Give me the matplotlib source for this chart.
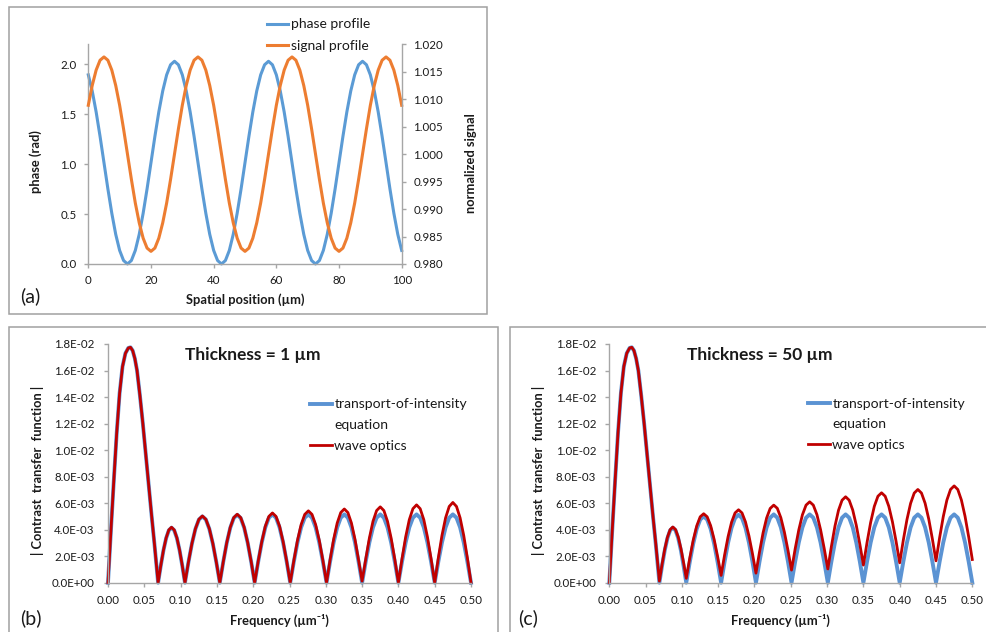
import matplotlib
matplotlib.use('Agg')
import numpy as np
import matplotlib.pyplot as plt
from matplotlib.patches import Rectangle
from matplotlib.lines import Line2D
from matplotlib.ticker import FormatStrFormatter

plt.rcParams['font.family'] = ['Lato', 'DejaVu Sans']

# ---------------- data: panel (a) ----------------
x_pos = [0, 1.25, 2.5, 3.75, 5, 6.25, 7.5, 8.75, 10, 11.25, 12.5, 13.75, 15, 16.25, 17.5, 18.75,
         20, 21.25, 22.5, 23.75, 25, 26.25, 27.5, 28.75, 30, 31.25, 32.5, 33.75, 35, 36.25, 37.5, 38.75,
         40, 41.25, 42.5, 43.75, 45, 46.25, 47.5, 48.75, 50, 51.25, 52.5, 53.75, 55, 56.25, 57.5, 58.75,
         60, 61.25, 62.5, 63.75, 65, 66.25, 67.5, 68.75, 70, 71.25, 72.5, 73.75, 75, 76.25, 77.5, 78.75,
         80, 81.25, 82.5, 83.75, 85, 86.25, 87.5, 88.75, 90, 91.25, 92.5, 93.75, 95, 96.25, 97.5, 98.75, 100]

phase_profile = [1.894, 1.733, 1.523, 1.278, 1.015, 0.752, 0.508, 0.297, 0.136, 0.035, 0.000,
                 0.035, 0.136, 0.297, 0.508, 0.752, 1.015, 1.278, 1.523, 1.733, 1.894, 1.995, 2.030,
                 1.995, 1.894, 1.733, 1.523, 1.278, 1.015, 0.752, 0.508, 0.297, 0.136, 0.035, 0.000,
                 0.035, 0.136, 0.297, 0.508, 0.752, 1.015, 1.278, 1.523, 1.733, 1.894, 1.995, 2.030,
                 1.995, 1.894, 1.733, 1.523, 1.278, 1.015, 0.752, 0.508, 0.297, 0.136, 0.035, 0.000,
                 0.035, 0.136, 0.297, 0.508, 0.752, 1.015, 1.278, 1.523, 1.733, 1.894, 1.995, 2.030,
                 1.995, 1.894, 1.733, 1.523, 1.278, 1.015, 0.752, 0.508, 0.297, 0.136]

signal_profile = [1.0089, 1.0125, 1.0153, 1.0171, 1.0177,
                  1.0171, 1.0153, 1.0125, 1.0089, 1.0046, 1.0000, 0.9954, 0.9911, 0.9875, 0.9847, 0.9829, 0.9823,
                  0.9829, 0.9847, 0.9875, 0.9911, 0.9954, 1.0000, 1.0046, 1.0089, 1.0125, 1.0153, 1.0171, 1.0177,
                  1.0171, 1.0153, 1.0125, 1.0089, 1.0046, 1.0000, 0.9954, 0.9911, 0.9875, 0.9847, 0.9829, 0.9823,
                  0.9829, 0.9847, 0.9875, 0.9911, 0.9954, 1.0000, 1.0046, 1.0089, 1.0125, 1.0153, 1.0171, 1.0177,
                  1.0171, 1.0153, 1.0125, 1.0089, 1.0046, 1.0000, 0.9954, 0.9911, 0.9875, 0.9847, 0.9829, 0.9823,
                  0.9829, 0.9847, 0.9875, 0.9911, 0.9954, 1.0000, 1.0046, 1.0089, 1.0125, 1.0153, 1.0171, 1.0177,
                  1.0171, 1.0153, 1.0125, 1.0089]

# ---------------- data: panels (b), (c) ----------------
freq = [0.000, 0.004, 0.008, 0.012, 0.016, 0.020, 0.024, 0.028, 0.031, 0.034, 0.037, 0.040, 0.044,
        0.048, 0.052, 0.056, 0.060, 0.064, 0.069,
        0.0727, 0.0764, 0.0801, 0.0838, 0.0875, 0.0912, 0.0949, 0.0986, 0.1023, 0.1060,
        0.1108, 0.1156, 0.1204, 0.1252, 0.1300, 0.1348, 0.1396, 0.1444, 0.1492, 0.1540,
        0.1588, 0.1636, 0.1684, 0.1732, 0.1780, 0.1828, 0.1876, 0.1924, 0.1972, 0.2020,
        0.2069, 0.2118, 0.2167, 0.2216, 0.2265, 0.2314, 0.2363, 0.2412, 0.2461, 0.2510,
        0.2560, 0.2610, 0.2660, 0.2710, 0.2760, 0.2810, 0.2860, 0.2910, 0.2960, 0.3010,
        0.3059, 0.3108, 0.3157, 0.3206, 0.3255, 0.3304, 0.3353, 0.3402, 0.3451, 0.3500,
        0.3550, 0.3600, 0.3650, 0.3700, 0.3750, 0.3800, 0.3850, 0.3900, 0.3950, 0.4000,
        0.4050, 0.4100, 0.4150, 0.4200, 0.4250, 0.4300, 0.4350, 0.4400, 0.4450, 0.4500,
        0.4550, 0.4600, 0.4650, 0.4700, 0.4750, 0.4800, 0.4850, 0.4900, 0.4950, 0.5000]

# values in units of 1e-3
tie_ctf = [0, 3.9, 7.7, 11.3, 14.3, 16.3, 17.3, 17.7, 17.75, 17.5, 16.9, 16.0, 14.1,
           12.0, 9.7, 7.4, 5.1, 2.9, 0,
           1.28, 2.44, 3.36, 3.95, 4.15, 3.95, 3.36, 2.44, 1.28, 0,
           1.55, 2.94, 4.05, 4.76, 5.00, 4.76, 4.05, 2.94, 1.55, 0,
           1.58, 3.01, 4.14, 4.87, 5.12, 4.87, 4.14, 3.01, 1.58, 0,
           1.59, 3.03, 4.17, 4.90, 5.15, 4.90, 4.17, 3.03, 1.59, 0,
           1.59, 3.03, 4.17, 4.90, 5.15, 4.90, 4.17, 3.03, 1.59, 0,
           1.59, 3.03, 4.17, 4.90, 5.15, 4.90, 4.17, 3.03, 1.59, 0,
           1.59, 3.03, 4.17, 4.90, 5.15, 4.90, 4.17, 3.03, 1.59, 0,
           1.59, 3.03, 4.17, 4.90, 5.15, 4.90, 4.17, 3.03, 1.59, 0,
           1.59, 3.03, 4.17, 4.90, 5.15, 4.90, 4.17, 3.03, 1.59, 0]

wave_ctf_1um = [0, 3.9, 7.7, 11.3, 14.3, 16.3, 17.3, 17.7, 17.75, 17.5, 16.9, 16.0, 14.1,
                12.0, 9.7, 7.4, 5.1, 2.9, 0,
                1.29, 2.46, 3.38, 3.98, 4.18, 3.98, 3.38, 2.46, 1.29, 0,
                1.55, 2.96, 4.07, 4.78, 5.03, 4.78, 4.07, 2.96, 1.55, 0,
                1.59, 3.03, 4.17, 4.91, 5.16, 4.91, 4.17, 3.03, 1.59, 0,
                1.63, 3.09, 4.26, 5.00, 5.26, 5.00, 4.26, 3.09, 1.63, 0,
                1.67, 3.19, 4.38, 5.15, 5.42, 5.15, 4.38, 3.19, 1.67, 0,
                1.72, 3.27, 4.50, 5.29, 5.56, 5.29, 4.50, 3.27, 1.72, 0.12,
                1.77, 3.36, 4.63, 5.44, 5.72, 5.44, 4.63, 3.36, 1.77, 0,
                1.81, 3.45, 4.75, 5.58, 5.87, 5.58, 4.75, 3.45, 1.81, 0,
                1.87, 3.56, 4.89, 5.75, 6.05, 5.75, 4.89, 3.56, 1.87, 0]

wave_ctf_50um = [0, 3.9, 7.7, 11.3, 14.3, 16.3, 17.3, 17.7, 17.75, 17.5, 16.9, 16.0, 14.1,
                 12.0, 9.7, 7.4, 5.1, 2.95, 0.12,
                 1.40, 2.54, 3.43, 4.00, 4.20, 4.01, 3.45, 2.59, 1.51, 0.33,
                 1.85, 3.21, 4.28, 4.97, 5.20, 4.97, 4.30, 3.27, 1.97, 0.55,
                 2.09, 3.47, 4.56, 5.26, 5.50, 5.26, 4.58, 3.52, 2.19, 0.72,
                 2.32, 3.76, 4.88, 5.60, 5.85, 5.61, 4.90, 3.81, 2.45, 0.95,
                 2.55, 3.98, 5.12, 5.85, 6.10, 5.85, 5.13, 4.00, 2.59, 1.03,
                 2.73, 4.26, 5.46, 6.22, 6.48, 6.22, 5.48, 4.33, 2.90, 1.33,
                 3.03, 4.55, 5.75, 6.52, 6.78, 6.52, 5.76, 4.59, 3.12, 1.50,
                 3.22, 4.76, 5.98, 6.76, 7.03, 6.76, 5.99, 4.80, 3.30, 1.65,
                 3.40, 4.98, 6.23, 7.03, 7.30, 7.03, 6.23, 5.01, 3.46, 1.75]

x_ticks_a = [0, 20, 40, 60, 80, 100]
y_ticks_phase = [0.0, 0.5, 1.0, 1.5, 2.0]
y_ticks_signal = [0.980, 0.985, 0.990, 0.995, 1.000, 1.005, 1.010, 1.015, 1.020]
x_ticks_ctf = [0.00, 0.05, 0.10, 0.15, 0.20, 0.25, 0.30, 0.35, 0.40, 0.45, 0.50]
y_ticks_ctf = [0.000, 0.002, 0.004, 0.006, 0.008, 0.010, 0.012, 0.014, 0.016, 0.018]

# ---------------- styles ----------------
BLUE_A = '#5b9bd5'
ORANGE = '#ed7d31'
BLUE = '#5b93d3'
RED = '#c00000'
AXC = '#a6a6a6'
TXT = '#1a1a1a'
TICK_FS = 8.3
LAB_FS = 9.3

W, H = 986, 632
fig = plt.figure(figsize=(W / 100, H / 100), dpi=100)


def add_ax(l, t, r, b):
    return fig.add_axes([l / W, 1 - b / H, (r - l) / W, (b - t) / H])


def frame(l, t, r, b):
    fig.add_artist(Rectangle((l / W, 1 - b / H), (r - l) / W, (b - t) / H,
                             transform=fig.transFigure, fill=False, ec='#a0a0a0', lw=1.1))


def style(ax, right=False):
    for s in ['top', 'right', 'left', 'bottom']:
        ax.spines[s].set_visible(False)
    ax.spines['bottom'].set_visible(True)
    ax.spines['bottom'].set_color(AXC)
    ax.spines['bottom'].set_linewidth(1.0)
    side = 'right' if right else 'left'
    ax.spines[side].set_visible(True)
    ax.spines[side].set_color(AXC)
    ax.spines[side].set_linewidth(1.0)
    ax.tick_params(axis='both', direction='out', length=3, width=1.0, color=AXC,
                   labelsize=TICK_FS, labelcolor=TXT)
    ax.tick_params(axis='y', pad=5.5)
    ax.tick_params(axis='x', pad=5)
    ax.set_facecolor('none')


frame(9, 7, 487, 314)
frame(9, 327, 498, 650)
frame(510, 327, 995, 650)

# ---------------- panel (a) ----------------
ax_a = add_ax(88.3, 44.3, 401.7, 264)
ax_a2 = ax_a.twinx()
style(ax_a)
style(ax_a2, right=True)
ax_a2.spines['bottom'].set_visible(False)
l1, = ax_a.plot(x_pos, phase_profile, color=BLUE_A, lw=2.2, clip_on=False, label='phase profile')
l2, = ax_a2.plot(x_pos, signal_profile, color=ORANGE, lw=2.2, clip_on=False, label='signal profile')
ax_a.set_xlim(0, 100)
ax_a.set_ylim(0, 2.2)
ax_a2.set_ylim(0.980, 1.020)
ax_a.set_xticks(x_ticks_a)
ax_a.set_yticks(y_ticks_phase)
ax_a.yaxis.set_major_formatter(FormatStrFormatter('%.1f'))
ax_a2.set_yticks(y_ticks_signal)
ax_a2.yaxis.set_major_formatter(FormatStrFormatter('%.3f'))
ax_a.text((36 - 88.3) / 313.4, (264 - 162) / 219.7, 'phase (rad)', rotation=90, ha='center', va='center',
          fontsize=LAB_FS, fontweight='bold', color=TXT, transform=ax_a.transAxes)
ax_a.text((471.5 - 88.3) / 313.4, (264 - 163) / 219.7, 'normalized signal', rotation=90, ha='center',
          va='center', fontsize=LAB_FS, fontweight='bold', color=TXT, transform=ax_a.transAxes)
ax_a.text(0.5, (264 - 300) / 219.7, 'Spatial position (µm)', ha='center', va='center',
          fontsize=LAB_FS, fontweight='bold', color=TXT, transform=ax_a.transAxes)
fig.text(30 / W, 1 - 296 / H, '(a)', ha='center', va='center', fontsize=14, color=TXT)
leg_a = fig.legend([l1, l2], ['phase profile', 'signal profile'], loc='upper left',
                   bbox_to_anchor=(267 / W, 1 - 18.5 / H), frameon=False, borderpad=0,
                   borderaxespad=0, handlelength=1.5, handletextpad=0.2, labelspacing=0.68,
                   fontsize=10)
for t in leg_a.get_texts():
    t.set_color(TXT)


# ---------------- panels (b), (c) ----------------
def ctf_panel(ax, wave, title, title_x, leg_x, leg_y, letter, letter_x):
    style(ax)
    tie_vals = np.array(tie_ctf) * 1e-3
    wave_vals = np.array(wave) * 1e-3
    lb, = ax.plot(freq, tie_vals, color=BLUE, lw=2.8, clip_on=False, solid_joinstyle='round')
    lr, = ax.plot(freq, wave_vals, color=RED, lw=2.0, clip_on=False, solid_joinstyle='round')
    ax.set_xlim(0, 0.5)
    ax.set_ylim(0, 0.018)
    ax.set_xticks(x_ticks_ctf)
    ax.set_yticks(y_ticks_ctf)
    ax.xaxis.set_major_formatter(FormatStrFormatter('%.2f'))
    ax.yaxis.set_major_formatter(FormatStrFormatter('%.1E'))
    ax.tick_params(axis='y', pad=6.5)
    ax.tick_params(axis='x', pad=5.5)
    ax.text(title_x, 0.954, title, ha='center', va='center', fontsize=12.5, fontweight='bold',
            color=TXT, transform=ax.transAxes)
    ax.text(-0.194, 0.472, '| Contrast  transfer  function |', rotation=90, ha='center', va='center',
            fontsize=LAB_FS, fontweight='bold', color=TXT, transform=ax.transAxes)
    ax.text(0.472, -0.16, 'Frequency (µm⁻¹)', ha='center', va='center', fontsize=LAB_FS,
            fontweight='bold', color=TXT, transform=ax.transAxes)
    fig.text(letter_x / W, 1 - 618 / H, letter, ha='center', va='center', fontsize=14, color=TXT)
    blank = Line2D([], [], color='none')
    leg = ax.legend([lb, blank, lr], ['transport-of-intensity', 'equation', 'wave optics'],
                    loc='upper left', bbox_to_anchor=(leg_x / W, 1 - leg_y / H),
                    bbox_transform=fig.transFigure, frameon=False, borderpad=0, borderaxespad=0,
                    handlelength=1.55, handletextpad=0.2, labelspacing=0.63, fontsize=10)
    for t in leg.get_texts():
        t.set_color(TXT)


ax_b = add_ax(108, 344, 471, 582.7)
ctf_panel(ax_b, wave_ctf_1um, 'Thickness = 1 µm', 0.40, 310, 398.5, '(b)', 31)
ax_c = add_ax(609.3, 344, 972.3, 582.7)
ctf_panel(ax_c, wave_ctf_50um, 'Thickness = 50 µm', 0.415, 808, 397.5, '(c)', 528)

fig.savefig('out.png', dpi=100)
